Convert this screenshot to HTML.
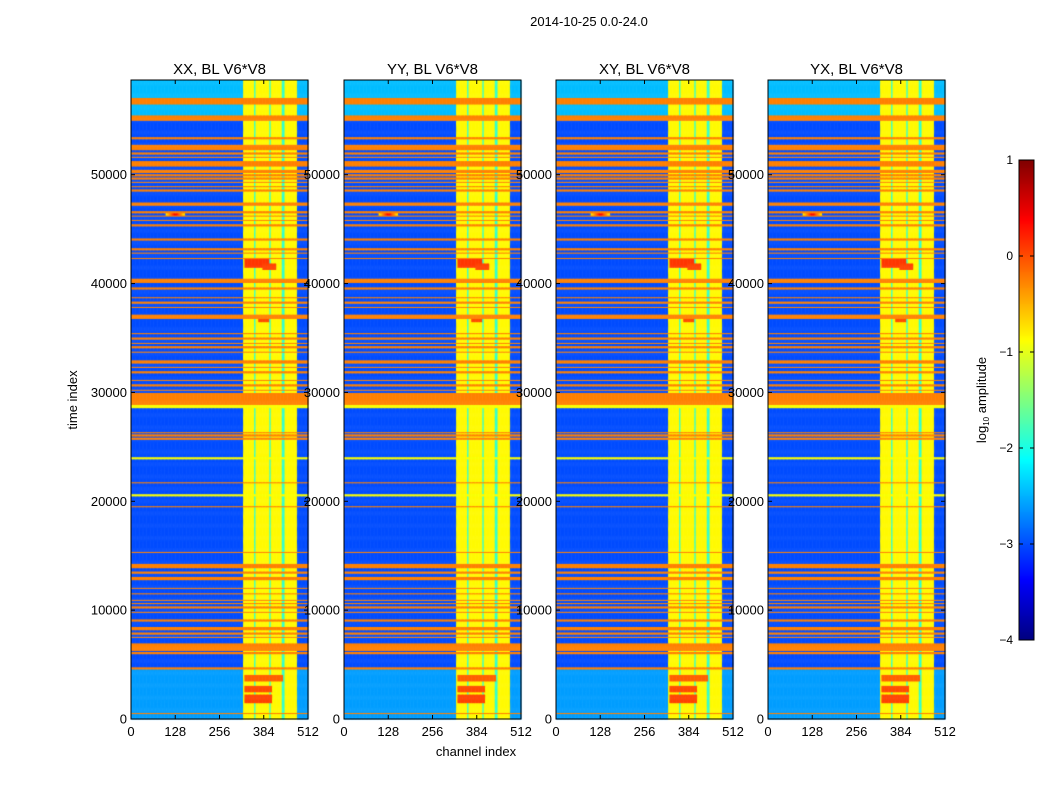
<!DOCTYPE html>
<html><head><meta charset="utf-8">
<style>
body{margin:0;background:#fff;width:1050px;height:800px;overflow:hidden;font-family:"Liberation Sans",sans-serif;}
#wrap{position:relative;width:1050px;height:800px;}
canvas,svg{position:absolute;left:0;top:0;}
</style></head>
<body>
<div id="wrap">
<canvas id="cv" width="1050" height="800"></canvas>
<svg id="sv" width="1050" height="800"></svg>
</div>
<script>
// ---- data ----
const panelTitles = ["XX, BL V6*V8","YY, BL V6*V8","XY, BL V6*V8","YX, BL V6*V8"];
const xTicks = [0,128,256,384,512];
const yTicks = [0,10000,20000,30000,40000,50000];
const cbTicks = [1,0,-1,-2,-3,-4];
// RFI stripes: time start, time end
const stripeStart = [56500,55050,53330,52300,51950,51580,50800,50200,49930,49650,49280,48910,48550,47200,46520,46160,45790,45330,44040,43120,42760,42300,40070,39540,38710,38250,37790,36850,35400,34940,34480,34120,33660,32720,32280,31820,31080,30620,30160,28860,26300,26030,25750,21700,19500,15270,13880,13440,12770,11960,11500,10860,10590,10220,9760,9020,8180,7830,7460,6340,5970,4590,480];
const stripeEnd   = [57080,55520,53470,52760,52090,51720,51290,50550,50070,49790,49420,49050,48690,47520,46660,46300,45930,45470,44180,43260,42900,42440,40530,39680,38850,38390,37930,37230,35540,35080,34620,34260,33800,33000,32420,31960,31220,30760,30300,29970,26440,26170,25890,21840,19640,15410,14340,13580,13150,12100,11640,11000,10730,10360,9900,9160,8550,7970,7600,6990,6160,4780,620];
const stripeLevel = -0.25;
// yellow stripes
const yStripeStart = [28580,23920,20520];
const yStripeEnd   = [29040,24060,20660];
// channel band
const bandStart = 323, bandEnd = 480;
const bandLevel = -0.85;
const bandGaps = [358,402,439];
const gapLevel = -1.9;
const bgLevel = -3.0;
// lighter regions
const regionStart = [57080,55520,0];
const regionEnd   = [58800,56500,4590];
const regionLevel = [-2.45,-2.45,-2.6];
// hot blocks in band
const blockT0 = [41500,41300,1500,2500,3500,36500];
const blockT1 = [42400,41900,2300,3100,4100,37000];
const blockC0 = [330,380,330,330,330,370];
const blockC1 = [400,420,410,410,440,400];
const blockLevel = [0.1,0.05,0.05,0.0,-0.1,0.0];
const flareT = 46500, flareC = 128;
const tMax = 58700, vMin = -4, vMax = 1;

const panelX = [131,344,556,768], panelW = 177, panelTop = 80, panelBot = 719;
function xs(p,ch){return panelX[p] + ch/512*panelW;}
function ys(t){return panelBot - t/tMax*(panelBot-panelTop);}
function jet(v){
  let n=(v-vMin)/(vMax-vMin); n=Math.max(0,Math.min(1,n));
  const c=x=>Math.round(255*Math.max(0,Math.min(1,x)));
  return `rgb(${c(1.5-Math.abs(4*n-3))},${c(1.5-Math.abs(4*n-2))},${c(1.5-Math.abs(4*n-1))})`;
}
function valueAt(t,ch){
  let v=bgLevel;
  for(let i=0;i<regionStart.length;i++) if(t>=regionStart[i]&&t<regionEnd[i]) v=regionLevel[i];
  if(ch>=bandStart&&ch<bandEnd){
    v=bandLevel;
    for(const g of bandGaps) if(Math.abs(ch-g)<4) v=gapLevel;
    for(let i=0;i<blockT0.length;i++) if(t>=blockT0[i]&&t<blockT1[i]&&ch>=blockC0[i]&&ch<blockC1[i]) v=blockLevel[i];
  }
  if(Math.abs(t-flareT)<250&&Math.abs(ch-flareC)<30) v=Math.max(v,-1+(1-Math.abs(ch-flareC)/30)*1.5);
  for(let i=0;i<yStripeStart.length;i++) if(t>=yStripeStart[i]&&t<yStripeEnd[i]) v=-0.9;
  for(let i=0;i<stripeStart.length;i++) if(t>=stripeStart[i]&&t<stripeEnd[i]) v=stripeLevel;
  return v;
}
const ctx=document.getElementById('cv').getContext('2d');
const dT=100, dC=4;
for(let p=0;p<4;p++){
  for(let t=0;t<tMax;t+=dT){
    for(let ch=0;ch<512;ch+=dC){
      ctx.fillStyle=jet(valueAt(t+dT/2,ch+dC/2));
      const x0=xs(p,ch),x1=xs(p,ch+dC),y0=ys(t+dT),y1=ys(t);
      ctx.fillRect(x0,y0,x1-x0+0.5,y1-y0+0.5);
    }
  }
}
const cbX=1019,cbW=15,cbTop=160,cbBot=640;
function cbY(v){return cbBot-(v-vMin)/(vMax-vMin)*(cbBot-cbTop);}
for(let y=cbTop;y<cbBot;y++){ctx.fillStyle=jet(vMin+(cbBot-y-0.5)/(cbBot-cbTop)*(vMax-vMin));ctx.fillRect(cbX,y,cbW,1);}

const sv=document.getElementById('sv');const NS='http://www.w3.org/2000/svg';
function mk(tag,attrs,txt){const e=document.createElementNS(NS,tag);for(const k in attrs)e.setAttribute(k,attrs[k]);if(txt!==undefined)e.textContent=txt;sv.appendChild(e);return e;}
const fmt=v=>String(v).replace('-','\u2212');
let e;
e=mk('text',{x:589,y:26,'text-anchor':'middle','font-size':13},'2014-10-25 0.0-24.0');


for(let p=0;p<4;p++){
  e=mk('rect',{x:panelX[p],y:panelTop,width:panelW,height:panelBot-panelTop,fill:'none',stroke:'#000','stroke-width':1});
  
  
  e=mk('text',{x:panelX[p]+panelW/2,y:74,'text-anchor':'middle','font-size':15},panelTitles[p]);
  
  
  for(const t of xTicks){
    const x=xs(p,t);
    mk('line',{x1:x,x2:x,y1:panelBot,y2:panelBot-4,stroke:'#000'});
    mk('line',{x1:x,x2:x,y1:panelTop,y2:panelTop+4,stroke:'#000'});
    e=mk('text',{x:x,y:736,'text-anchor':'middle','font-size':13},t);
    
    
  }
  for(const t of yTicks){
    const y=ys(t);
    mk('line',{x1:panelX[p],x2:panelX[p]+4,y1:y,y2:y,stroke:'#000'});
    mk('line',{x1:panelX[p]+panelW,x2:panelX[p]+panelW-4,y1:y,y2:y,stroke:'#000'});
    e=mk('text',{x:panelX[p]-4,y:y+4.5,'text-anchor':'end','font-size':13},t);
    
    
  }
}
e=mk('text',{x:0,y:0,'text-anchor':'middle','font-size':13,transform:'translate(77,400) rotate(-90)'},'time index');


e=mk('text',{x:476,y:756,'text-anchor':'middle','font-size':13},'channel index');


e=mk('rect',{x:cbX,y:cbTop,width:cbW,height:cbBot-cbTop,fill:'none',stroke:'#000'});


for(const v of cbTicks){
  const y=cbY(v);
  mk('line',{x1:cbX,x2:cbX+4,y1:y,y2:y,stroke:'#000'});
  mk('line',{x1:cbX+cbW,x2:cbX+cbW-4,y1:y,y2:y,stroke:'#000'});
  e=mk('text',{x:1013,y:y+4,'text-anchor':'end','font-size':12},fmt(v));
  
  
}
e=mk('text',{x:0,y:0,'text-anchor':'middle','font-size':13,transform:'translate(986,400) rotate(-90)'});


e.innerHTML='log<tspan font-size="8" dy="3">10</tspan><tspan dy="-3"> amplitude</tspan>';
</script>
</body></html>
